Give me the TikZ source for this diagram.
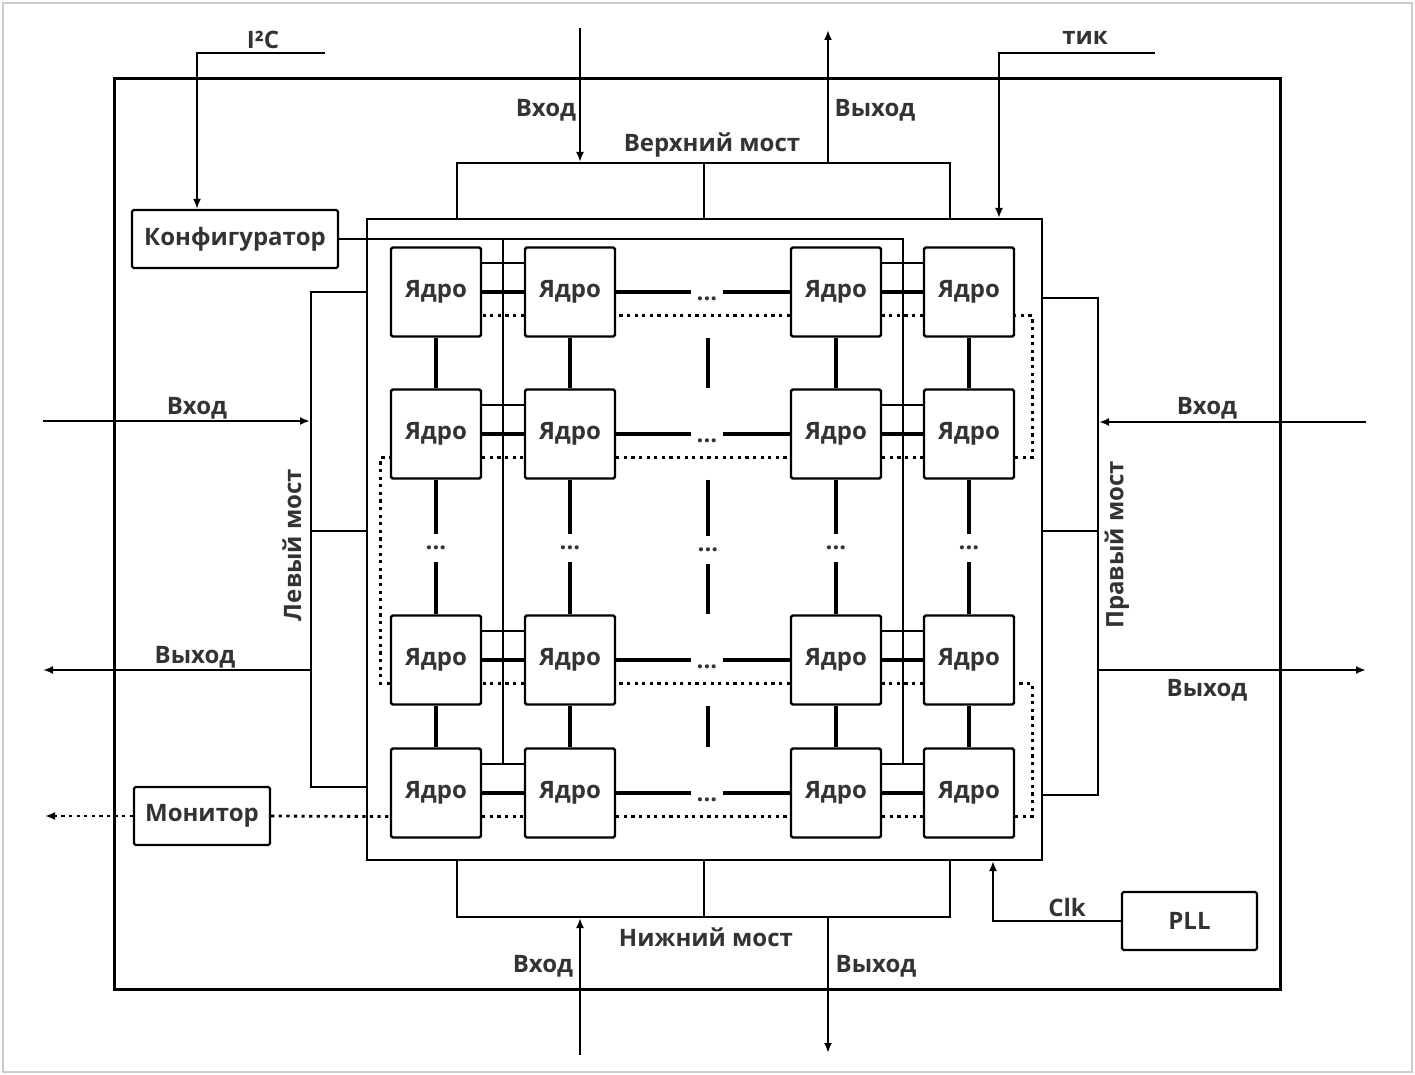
\documentclass[tikz,border=0pt]{standalone}
\usepackage{fontspec}
\setmainfont{Open Sans}
\usetikzlibrary{arrows.meta,calc}

\begin{document}
\begin{tikzpicture}[x=0.5pt,y=-0.5pt,
    font=\bfseries\fontsize{12}{14}\selectfont,text=black!80,
    core/.style={draw,line width=1.2pt,minimum width=45pt,minimum height=44.5pt,
                 inner sep=0pt,rounded corners=0.8pt},
    box/.style={draw,line width=1.1pt,inner sep=0pt,rounded corners=0.8pt},
    bridge/.style={draw,line width=1pt,inner sep=0pt},
    link/.style={line width=1.7pt},
    bus/.style={line width=1pt},
    chain/.style={line width=1.4pt,dash pattern=on 1.6pt off 2.2pt},
    sig/.style={line width=1pt,-{Latex[length=5pt,width=4pt]}},
    hdots/.style={inner xsep=2.5pt,inner ysep=0pt,text height=1.6pt,text depth=0pt},
    vdots/.style={inner xsep=0pt,inner ysep=6pt,text height=1.6pt,text depth=0pt}]

  \useasboundingbox (0,0) rectangle (1415,1075);
  \draw[black!20,line width=0.8pt] (3,3) rectangle (1412,1072);

  % chip and core array
  \node[draw,line width=1.5pt,minimum width=583pt,minimum height=455pt,inner sep=0pt] (chip) at (697,534) {};
  \node[draw,line width=1pt,minimum width=337.5pt,minimum height=320.5pt,inner sep=0pt] (grid) at (704.5,539.5) {};

  \foreach \c/\x in {1/436,2/570,3/836,4/969}
    \foreach \r/\y in {1/292,2/434,3/660,4/793}
      \node[core] (c\r\c) at (\x,\y) {Ядро};

  \foreach \r/\y in {1/292,2/434,3/660,4/793}
    \node[hdots] (h\r) at (707,\y+7) {...};
  \foreach \c/\x in {1/436,2/570,3/836,4/969}
    \node[vdots] (v\c) at (\x,548) {...};
  \node[vdots] (m) at (708,550) {...};

  % mesh links
  \foreach \r in {1,...,4}{
    \draw[link] (c\r1) -- (c\r2);
    \draw[link] (c\r3) -- (c\r4);
    \draw[link] (c\r2) -- (c\r2 -| h\r.west);
    \draw[link] (h\r.east |- c\r3) -- (c\r3);
    \draw[bus] (c\r1.32) -- (c\r2.148);
    \draw[bus] (c\r3.32) -- (c\r4.148);
  }
  \foreach \c in {1,...,4}{
    \draw[link] (c1\c) -- (c2\c);
    \draw[link] (c3\c) -- (c4\c);
    \draw[link] (c2\c) -- (v\c);
    \draw[link] (v\c) -- (c3\c);
  }
  \draw[link] (m |- c12.south) -- (m |- c22.north);
  \draw[link] (m |- c22.south) -- (m.north);
  \draw[link] (m.south) -- (m |- c32.north);
  \draw[link] (m |- c32.south) -- (m |- c42.north);

  % configurator
  \node[box,minimum width=103pt,minimum height=29pt] (cfg) at (235,239) {Конфигуратор};
  \coordinate (busL) at ($(c41.32)!0.5!(c42.148)$);
  \coordinate (busR) at ($(c43.32)!0.5!(c44.148)$);
  \draw[bus] (cfg.east) -| (busR);
  \draw[bus] (cfg.east -| busL) -- (busL);
  \coordinate (i2c) at (325,53);
  \draw[sig] (i2c) -| ([xshift=-19pt]cfg.north);
  \node (li2c) at (263,40) {I²C};

  % monitor chain
  \node[box,minimum width=68pt,minimum height=29pt] (mon) at (202,816) {Монитор};
  \draw[chain] (mon.east) -- (c41.-153);
  \foreach \a/\b in {41/42,42/43,43/44,21/22,22/23,23/24}
    \draw[chain] (c\a.-27) -- (c\b.-153);
  \foreach \a/\b in {34/33,33/32,32/31,14/13,13/12,12/11}
    \draw[chain] (c\a.-153) -- (c\b.-27);
  \draw[chain] (c44.-27) -- ++(17,0) |- (c34.-27);
  \draw[chain] (c31.-153) -- ++(-9,0) |- (c21.-153);
  \draw[chain] (c24.-27) -- ++(17,0) |- (c14.-27);
  \coordinate (monout) at (45,816);
  \draw[chain,-{Latex[length=5pt,width=4pt]}] (mon.west) -- (monout);

  % bridges
  \node[bridge,minimum width=246.5pt,minimum height=28pt] (tbr) at (703.5,191) {};
  \node[bridge,minimum width=246.5pt,minimum height=28.5pt] (bbr) at (703.5,888.5) {};
  \node[bridge,minimum width=28pt,minimum height=247.5pt] (lbr) at (339,539.5) {};
  \node[bridge,minimum width=28pt,minimum height=248.5pt] (rbr) at (1070,546.5) {};
  \draw[bus] (tbr.north) -- (tbr.south);
  \draw[bus] (bbr.north) -- (bbr.south);
  \draw[bus] ([yshift=4.25pt]lbr.west) -- ([yshift=4.25pt]lbr.east);
  \draw[bus] ([yshift=7.75pt]rbr.west) -- ([yshift=7.75pt]rbr.east);

  \coordinate (tin) at (580,28);
  \coordinate (tout) at (828,30);
  \coordinate (bin) at (580,1055);
  \coordinate (bout) at (828,1053);
  \coordinate (lin) at (43,421);
  \coordinate (lout) at (43,670);
  \coordinate (rin) at (1366,422);
  \coordinate (rout) at (1366,670);
  \draw[sig] (tin) -- (tin |- tbr.north);
  \draw[sig] (tout |- tbr.north) -- (tout);
  \draw[sig] (bin) -- (bin |- bbr.south);
  \draw[sig] (bout |- bbr.south) -- (bout);
  \draw[sig] (lin) -- (lin -| lbr.west);
  \draw[sig] (lout -| lbr.west) -- (lout);
  \draw[sig] (rin) -- (rin -| rbr.east);
  \draw[sig] (rout -| rbr.east) -- (rout);

  \node (ltin) at (546,110) {Вход};
  \node (ltout) at (875,110) {Выход};
  \node (ltbr) at (712,145) {Верхний мост};
  \node (lbin) at (543,966) {Вход};
  \node (lbout) at (876,966) {Выход};
  \node (lbbr) at (706,937) {Нижний мост};
  \node (llin) at (197,408) {Вход};
  \node (llout) at (195,657) {Выход};
  \node[rotate=90] (llbr) at (292,545) {Левый мост};
  \node (lrin) at (1207,408) {Вход};
  \node (lrout) at (1207,690) {Выход};
  \node[rotate=90] (lrbr) at (1117,545) {Правый мост};

  % tick and clock
  \coordinate (tik) at (1155,53);
  \draw[sig] (tik) -| ([xshift=-22pt]grid.north east);
  \node (ltik) at (1085,38) {тик};
  \node[box,minimum width=67.5pt,minimum height=29pt] (pll) at (1189.5,921) {PLL};
  \draw[sig] (pll.west) -| ([xshift=-25pt]grid.south east);
  \node (lclk) at (1067,907) {Clk};
\end{tikzpicture}
\end{document}
